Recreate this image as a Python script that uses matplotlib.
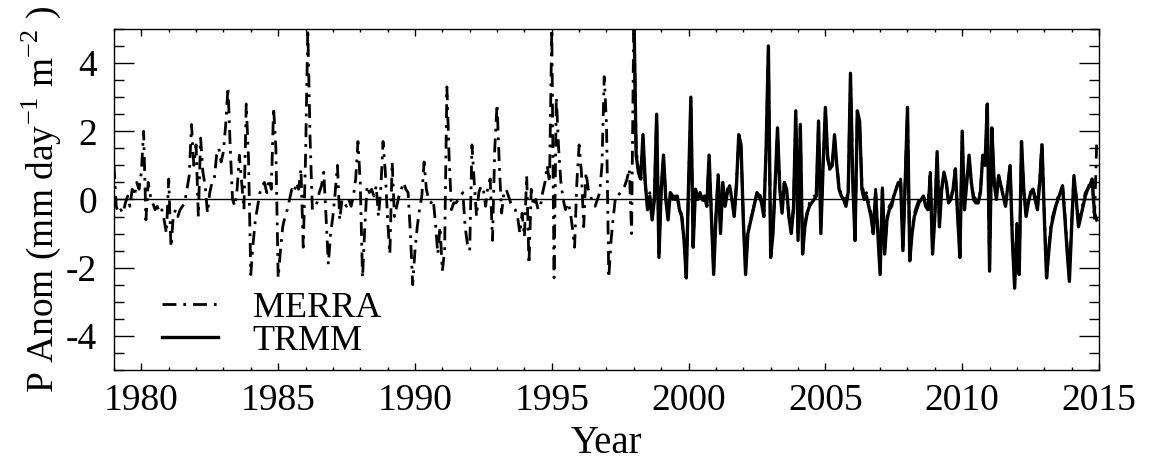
import numpy as np
import matplotlib
matplotlib.use("Agg")
import matplotlib.pyplot as plt
from matplotlib.ticker import MultipleLocator

# monthly precipitation anomalies (mm/day)
merra_start = 1979
merra = [
    1.0, -0.2, -0.4, -0.3, -0.4, -0.1, 0.1, -0.2, 0.3, 0.1, 0.5, 0.3,      # 1979
    0.8, 2.0, -0.6, 0.5, 0.1, -0.1, -0.3, -0.2, -0.4, -0.3, -0.6, -1.0,    # 1980
    0.6, -1.4, -0.5, -0.3, -0.5, -0.3, -0.2, -0.1, 0.3, 0.7, 2.2, 1.0,     # 1981
    1.6, -0.5, 1.8, 0.8, 0.4, -0.4, 0.2, 0.5, 0.6, 1.3, 1.5, 1.1,          # 1982
    1.4, 2.2, 3.3, 1.5, 0.0, -0.2, 0.3, 1.3, 0.5, -0.3, 2.8, 1.2,          # 1983
    -2.2, -1.3, -0.6, -0.2, 0.2, 0.4, 0.5, 0.2, 0.6, 0.3, 2.7, 1.5,        # 1984
    -2.3, -1.5, -0.8, -0.5, -0.3, 0.0, 0.3, 0.2, 0.5, 0.3, 0.9, -1.4,      # 1985
    1.2, 5.0, 1.8, -0.3, -0.2, -0.1, 0.2, 0.4, 0.8, -0.5, -1.9, -1.0,      # 1986
    -0.5, 0.2, 1.0, -0.6, 0.0, -0.1, -0.2, 0.0, -0.2, 0.1, 0.6, 1.7,       # 1987
    0.5, -2.3, -0.8, 0.4, 0.2, 0.3, 0.1, 0.4, -0.5, 0.3, 1.7, 0.8,         # 1988
    -0.6, -1.6, 1.1, -0.5, -0.2, 0.1, 0.3, 0.5, 0.3, 0.2, -1.0, -2.5,      # 1989
    -1.5, -0.8, -0.3, 0.1, 1.1, 0.3, 0.0, -0.1, 0.0, -0.7, -1.6, -0.8,     # 1990
    -2.1, -1.5, 3.3, 1.2, -0.3, -0.1, -0.1, 0.0, 0.1, 0.2, -0.8, -1.3,     # 1991
    -1.5, 1.6, 0.5, -0.5, 0.2, 0.4, 0.3, -0.2, 0.4, 0.6, -1.2, 1.5,        # 1992
    2.8, 1.0, -0.4, 0.2, 0.3, 0.1, -0.1, -0.2, -0.3, -0.5, -1.0, -0.4,     # 1993
    -1.1, 0.7, -1.9, 0.3, -0.2, 0.0, -0.3, -0.2, 0.2, 0.5, 1.0, 0.5,       # 1994
    5.0, -2.3, 3.0, 1.5, 0.5, 0.0, -0.3, -0.1, -0.3, -0.8, -1.4, 0.5,      # 1995
    1.6, 0.8, -0.8, 0.8, 0.3, 0.1, -0.1, -0.2, 0.0, 0.2, 1.0, 3.6,         # 1996
    2.2, -2.3, -1.2, -0.5, 0.1, 0.1, 0.2, 0.3, 0.4, 0.6, 0.9, -1.0,        # 1997
    5.5, 1.5, 0.9, 0.5, 1.8, 0.4, -0.2, 0.2, -0.5, 0.1, 2.4, -1.6,         # 1998
    0.4, 1.2, 0.1, -0.5, 0.2, 0.0, 0.1, 0.1, -0.2, -0.5, -1.1, -2.2,       # 1999
    0.4, 2.9, -1.3, 0.3, 0.1, 0.2, -0.1, 0.1, -0.1, 1.2, -0.4, -2.1,       # 2000
    -0.5, 0.8, -0.9, 0.4, -0.2, 0.3, 0.4, 0.0, -0.4, 0.5, 1.8, 1.5,        # 2001
    -0.5, -2.1, -1.0, -0.6, -0.4, -0.1, 0.2, 0.2, 0.0, -0.4, 1.4, 4.4,     # 2002
    -1.6, -0.9, 0.5, 2.0, 0.4, -0.3, 0.5, 0.2, -0.5, -0.9, -0.2, 2.5,      # 2003
    -1.1, 2.1, -1.5, -0.7, -0.4, -0.1, 0.0, 0.1, 0.1, 2.2, -0.9, 1.1,      # 2004
    2.6, 1.3, 0.8, 1.1, 1.8, 1.0, 0.4, 0.1, 0.1, -0.1, 0.3, 3.6,           # 2005
    0.6, -1.1, 2.5, 2.2, 0.5, 0.1, 0.2, -0.1, -0.4, -0.9, 0.3, -0.9,       # 2006
    -2.1, 0.4, -1.5, -0.5, -0.2, -0.1, 0.1, 0.3, 0.5, 0.6, -1.4, 0.6,      # 2007
    2.6, -1.7, -0.9, -0.4, -0.2, 0.0, 0.1, 0.1, -0.1, -0.2, 0.8, -1.5,     # 2008
    -0.4, 1.3, -0.7, 0.3, 0.7, 0.5, 0.0, 0.1, 0.3, 0.8, -0.4, -1.6,        # 2009
    1.9, -0.2, 0.6, 1.2, 0.5, 0.1, 0.0, -0.1, 0.3, 1.2, 1.1, 2.7,          # 2010
    -2.0, 2.0, 0.6, 0.1, 0.7, 0.4, 0.2, -0.1, 0.4, 1.0, -1.1, -2.5,        # 2011
    -0.7, -2.1, 1.6, 0.3, -0.4, 0.0, 0.2, 0.3, 0.1, -0.2, 0.6, 1.7,        # 2012
    -0.4, -2.2, -1.4, -0.7, -0.4, -0.2, 0.1, 0.2, 0.4, -0.4, -1.4, -2.3,   # 2013
    -0.7, 0.7, 0.1, -0.7, -0.4, -0.1, 0.2, 0.3, 0.5, 0.6, -0.6, 1.7,       # 2014
]

trmm_start = 1998
trmm = [
    5.6, 1.3, 0.8, 0.6, 1.9, 0.5, -0.3, 0.1, -0.6, 0.0, 2.5, -1.7,         # 1998
    0.3, 1.3, 0.0, -0.6, 0.2, 0.1, 0.0, 0.1, -0.3, -0.5, -1.2, -2.3,       # 1999
    0.5, 3.0, -1.4, 0.3, 0.0, 0.2, 0.0, 0.1, -0.2, 1.3, -0.5, -2.2,        # 2000
    -0.5, 0.7, -1.0, 0.5, -0.2, 0.2, 0.4, 0.0, -0.5, 0.4, 1.9, 1.6,        # 2001
    -0.6, -2.2, -1.0, -0.7, -0.4, -0.1, 0.2, 0.1, -0.1, -0.5, 1.5, 4.5,    # 2002
    -1.7, -1.0, 0.5, 2.1, 0.3, -0.4, 0.5, 0.3, -0.5, -1.0, -0.3, 2.6,      # 2003
    -1.2, 2.2, -1.6, -0.8, -0.4, -0.2, -0.1, 0.0, 0.1, 2.3, -1.0, 1.0,     # 2004
    2.7, 1.2, 0.9, 1.0, 1.9, 1.0, 0.3, 0.1, 0.0, -0.2, 0.2, 3.7,           # 2005
    0.5, -1.2, 2.6, 2.3, 0.3, 0.0, 0.1, -0.2, -0.5, -1.0, 0.2, -1.0,       # 2006
    -2.2, 0.3, -1.6, -0.6, -0.3, -0.2, 0.1, 0.3, 0.5, 0.5, -1.5, 0.5,      # 2007
    2.7, -1.8, -1.0, -0.5, -0.3, -0.1, 0.0, 0.1, -0.2, -0.3, 0.7, -1.6,    # 2008
    -0.5, 1.4, -0.8, 0.3, 0.8, 0.5, -0.1, 0.0, 0.3, 0.9, -0.5, -1.7,       # 2009
    2.0, -0.3, 0.5, 1.3, 0.5, 0.0, -0.1, -0.1, 0.2, 1.3, 1.0, 2.8,         # 2010
    -2.1, 2.1, 0.5, 0.0, 0.7, 0.4, 0.1, -0.2, 0.4, 1.0, -1.2, -2.6,        # 2011
    -0.8, -2.2, 1.7, 0.3, -0.5, -0.1, 0.2, 0.3, 0.0, -0.3, 0.5, 1.6,       # 2012
    -0.5, -2.3, -1.5, -0.8, -0.5, -0.2, 0.0, 0.2, 0.4, -0.5, -1.5, -2.4,   # 2013
    -0.8, 0.7, 0.0, -0.8, -0.5, -0.2, 0.1, 0.3, 0.4, 0.6, -0.4, -0.6,      # 2014
]

x_ticks = [1980, 1985, 1990, 1995, 2000, 2005, 2010, 2015]
y_ticks = [-4, -2, 0, 2, 4]

plt.rcParams['font.family'] = ['Liberation Serif', 'DejaVu Serif']
plt.rcParams['mathtext.fontset'] = 'custom'
plt.rcParams['mathtext.rm'] = 'Liberation Serif'
plt.rcParams['axes.unicode_minus'] = False

t_merra = merra_start + np.arange(len(merra)) / 12.0
t_trmm = trmm_start + np.arange(len(trmm)) / 12.0

fig = plt.figure(figsize=(11.49, 4.67), dpi=100)
ax = fig.add_axes([0.0992, 0.2077, 0.8573, 0.7303])

ax.axhline(0, color='black', lw=1.0)
ax.plot(t_merra, merra, color='black', lw=2.0, linestyle=(0, (5, 2.5, 1, 2.5)), label='MERRA')
ax.plot(t_trmm, trmm, color='black', lw=2.4, label='TRMM')

ax.set_xlim(1979, 2015)
ax.set_ylim(-5, 5)
ax.set_xticks(x_ticks)
ax.set_yticks(y_ticks)
ax.xaxis.set_minor_locator(MultipleLocator(1))
ax.yaxis.set_minor_locator(MultipleLocator(0.5))

ax.tick_params(axis='x', which='major', direction='in', length=5, width=1,
               top=True, bottom=True, labelsize=27, pad=10)
ax.tick_params(axis='x', which='minor', direction='in', length=2.5, width=1,
               top=True, bottom=True)
ax.tick_params(axis='y', which='major', direction='in', length=14.4, width=1,
               left=True, right=True, labelsize=27, pad=12)
ax.tick_params(axis='y', which='minor', direction='in', length=7.2, width=1,
               left=True, right=True)
for s in ax.spines.values():
    s.set_linewidth(1.0)

ax.set_xlabel('Year', fontsize=28, labelpad=5)
ax.set_ylabel(r'P Anom (mm day$^{-1}$ m$^{-2}$ )', fontsize=27, labelpad=2)

ax.legend(loc='lower left', bbox_to_anchor=(0.049, 0.035), frameon=False,
          fontsize=26, handlelength=1.55, handletextpad=0.95, labelspacing=0.0,
          borderpad=0, borderaxespad=0)

fig.savefig('out.png', dpi=100)
